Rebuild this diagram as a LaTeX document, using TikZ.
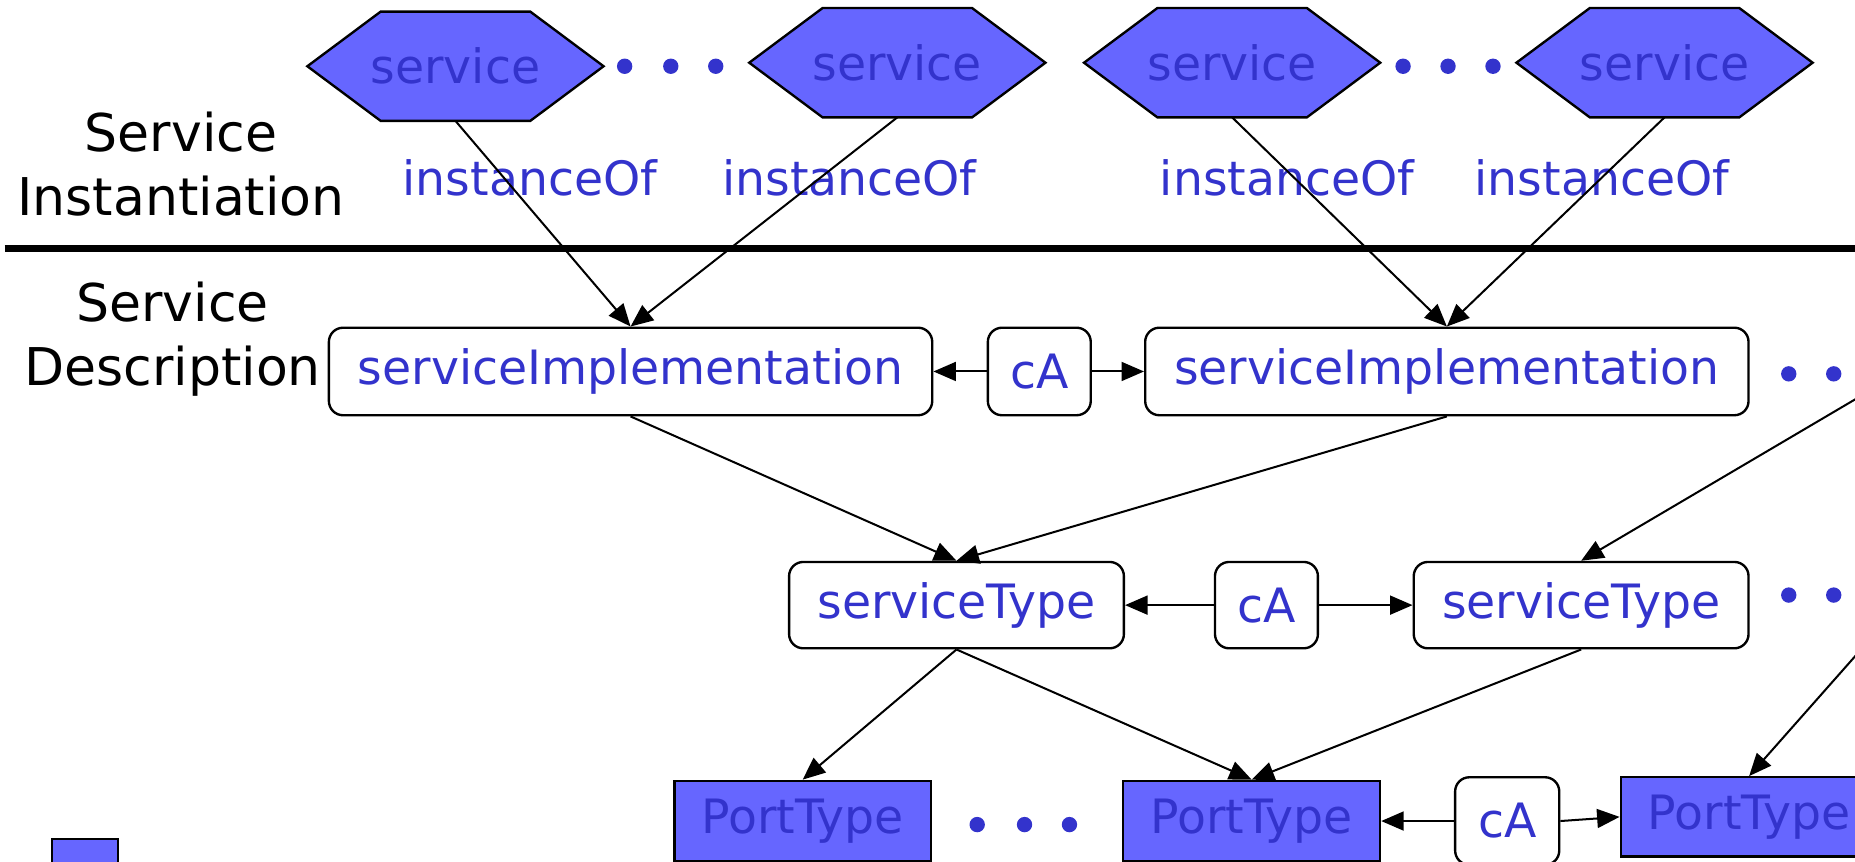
\documentclass[tikz,border=0pt]{standalone}
\usepackage{fontspec}
\setmainfont{DejaVu Sans}
\usetikzlibrary{arrows.meta,backgrounds}
\definecolor{txtblue}{HTML}{3333CC}
\definecolor{fillblue}{HTML}{6666FF}
\begin{document}
\begin{tikzpicture}[x=1pt,y=-1pt,
  every node/.style={font=\fontsize{40}{48}\selectfont, text=txtblue, inner sep=0pt},
  hexbox/.style={minimum width=250pt, minimum height=92pt},
  hexshape/.style={fill=fillblue, draw=black, line width=2pt},
  rbox/.style={draw=black, line width=2pt, rounded corners=12pt, fill=white, minimum height=74pt},
  ptbox/.style={draw=black, line width=2pt, fill=fillblue, minimum width=217pt, minimum height=68pt},
  conn/.style={line width=1.7pt, -{Triangle[length=19pt,width=16pt]}},
  ddot/.style={circle, fill=txtblue, minimum size=13pt},
  lbl/.style={text=black, font=\fontsize{44}{54}\selectfont, align=center},
]
\useasboundingbox (0,0) rectangle (1568,728);
\clip (0,0) rectangle (1568,728);

% top row: services
\node[hexbox] (h1) at (385,56) {service};
\node[hexbox] (h2) at (758.5,53) {service};
\node[hexbox] (h3) at (1041.5,53) {service};
\node[hexbox] (h4) at (1407,53) {service};
\begin{scope}[on background layer]
\foreach \h in {h1,h2,h3,h4}
  \draw[hexshape] (\h.west) -- ([xshift=62pt]\h.north west) -- ([xshift=-62pt]\h.north east)
    -- (\h.east) -- ([xshift=-62pt]\h.south east) -- ([xshift=62pt]\h.south west) -- cycle;
\end{scope}

% dots
\node[ddot] (d1) at (528,56) {};
\node[ddot] (d2) at (567,56) {};
\node[ddot] (d3) at (605,56) {};
\node[ddot] (d4) at (1186,56) {};
\node[ddot] (d5) at (1224,56) {};
\node[ddot] (d6) at (1262,56) {};
\node[ddot] (d7) at (1512,316) {};
\node[ddot] (d8) at (1550,316) {};
\node[ddot] (d9) at (1512,503) {};
\node[ddot] (d10) at (1550,503) {};
\node[ddot] (d11) at (826,697) {};
\node[ddot] (d12) at (866,697) {};
\node[ddot] (d13) at (904,697) {};

% instanceOf labels
\node (i1) at (448,150) {instanceOf};
\node (i2) at (718,150) {instanceOf};
\node (i3) at (1088,150) {instanceOf};
\node (i4) at (1354,150) {instanceOf};

% layer labels
\node[lbl] (l1) at (153,139) {Service\\Instantiation};
\node[lbl] (l2) at (146,287) {Service\\Description};

% divider
\draw[line width=6pt] (4,210) -- (1600,210);

% service implementation row
\node[rbox, minimum width=510pt] (si1) at (533,314) {serviceImplementation};
\node[rbox, minimum width=87pt] (ca1) at (878.5,314) {cA};
\node[rbox, minimum width=510pt] (si2) at (1223,314) {serviceImplementation};

% service type row
\node[rbox, minimum width=283pt, minimum height=73pt] (st1) at (808.5,511.5) {serviceType};
\node[rbox, minimum width=87pt, minimum height=73pt] (ca2) at (1070.5,511.5) {cA};
\node[rbox, minimum width=283pt, minimum height=73pt] (st2) at (1336.5,511.5) {serviceType};

% port type row
\node[ptbox] (pt1) at (678.5,694) {PortType};
\node[ptbox] (pt2) at (1058,694) {PortType};
\node[rbox, minimum width=88pt] (ca3) at (1274,694) {cA};
\node[ptbox, minimum height=67pt] (pt3) at (1478.5,690.5) {PortType};

% partial legend square
\draw[fill=fillblue, line width=2pt] (44,709) rectangle (100,790);

% off-picture edge starts
\coordinate (r1) at (1620,307);
\coordinate (r2) at (1620,496);

% connectors
\draw[conn] (h1.south) -- (si1.north);
\draw[conn] (h2.south) -- (si1.north);
\draw[conn] (h3.south) -- (si2.north);
\draw[conn] (h4.south) -- (si2.north);
\draw[conn] (ca1.west) -- (si1.east);
\draw[conn] (ca1.east) -- (si2.west);
\draw[conn] (si1.south) -- (st1.north);
\draw[conn] (si2.south) -- (st1.north);
\draw[conn] (r1) -- (st2.north);
\draw[conn] (ca2.west) -- (st1.east);
\draw[conn] (ca2.east) -- (st2.west);
\draw[conn] (st1.south) -- (pt1.north);
\draw[conn] (st1.south) -- (pt2.north);
\draw[conn] (st2.south) -- (pt2.north);
\draw[conn] (r2) -- (pt3.north);
\draw[conn] (ca3.west) -- (pt2.east);
\draw[conn] (ca3.east) -- (pt3.west);
\end{tikzpicture}
\end{document}
